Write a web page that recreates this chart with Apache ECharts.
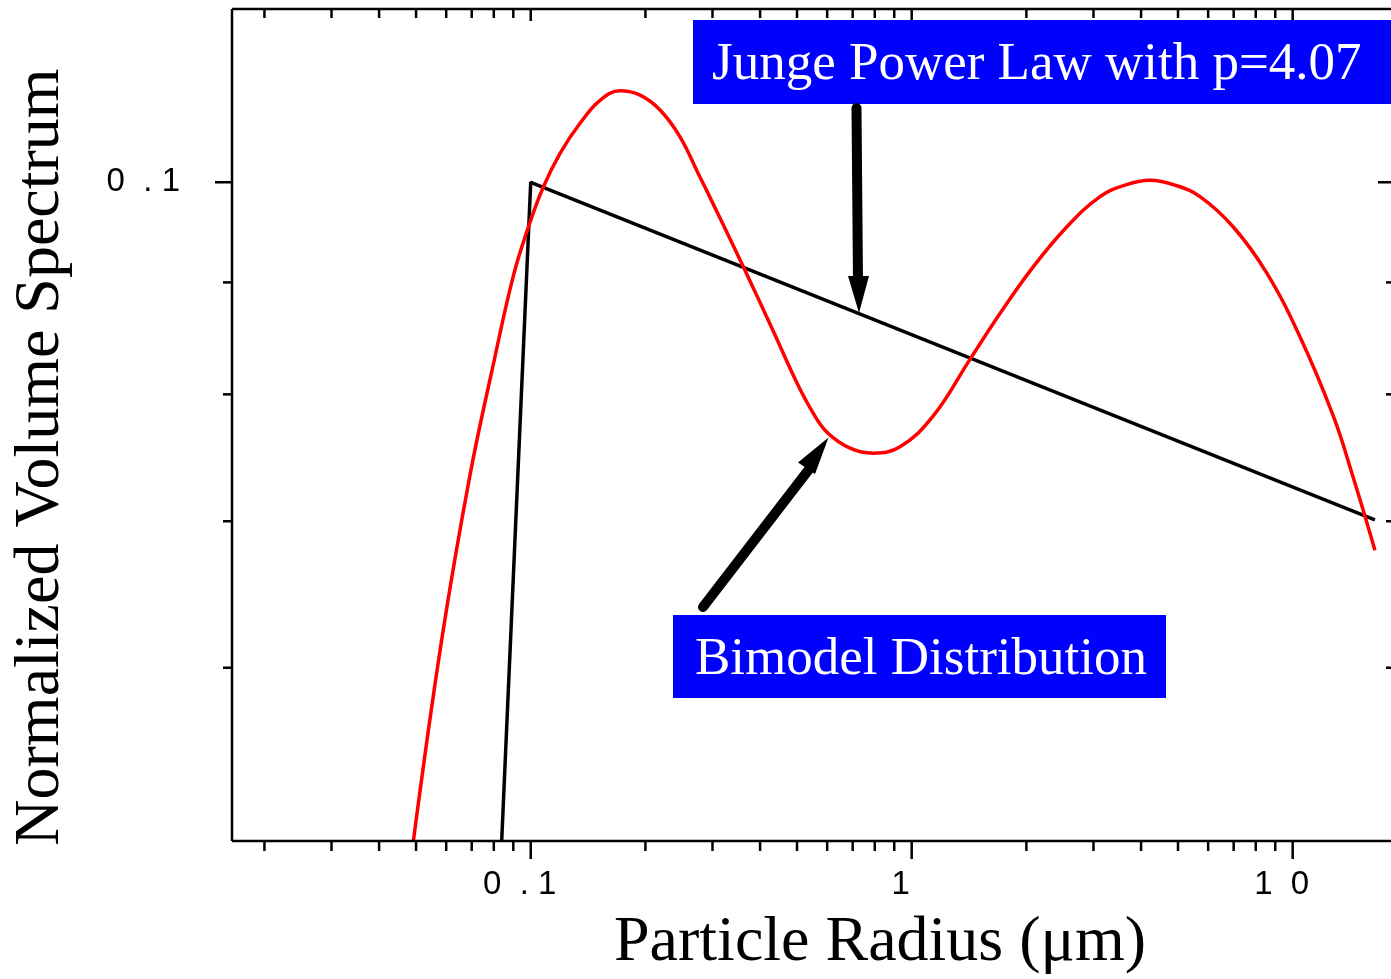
<!DOCTYPE html>
<html><head><meta charset="utf-8">
<script src="https://cdn.jsdelivr.net/npm/echarts@6/dist/echarts.min.js"></script>
<style>html,body{margin:0;padding:0;background:#fff;overflow:hidden;width:1391px;height:979px}#c{width:1400px;height:979px}</style>
</head><body><div id="c"></div>
<script>
// ---- data ----
const redX = [0.0492, 0.0584, 0.0693, 0.0803, 0.0900, 0.0986, 0.1079, 0.1194, 0.1347, 0.1520, 0.1716, 0.1936, 0.2185, 0.2465, 0.2754, 0.3016, 0.3614, 0.4291, 0.4992, 0.5474, 0.5983, 0.6889, 0.7931, 0.9318, 1.139, 1.422, 1.705, 2.086, 2.552, 3.121, 3.629, 4.222, 4.909, 5.712, 6.985, 8.545, 10.45, 12.78, 14.42, 16.44];
const redY = [0.0500, 0.0618, 0.0735, 0.0830, 0.0906, 0.0954, 0.0995, 0.1031, 0.1064, 0.1090, 0.1101, 0.1096, 0.1079, 0.1049, 0.1009, 0.0977, 0.0915, 0.0858, 0.0810, 0.0786, 0.0769, 0.0756, 0.0752, 0.0757, 0.0782, 0.0830, 0.0871, 0.0915, 0.0954, 0.0985, 0.0997, 0.1002, 0.0997, 0.0985, 0.0954, 0.0909, 0.0850, 0.0782, 0.0733, 0.0679];
const powerX = [0.0839, 0.1, 16.44];
const powerY = [0.05, 0.1, 0.0701];
const xMajorTicks = [0.1, 1, 10];
const xTickLabels = ['0  . 1', '1', '1  0'];
const xMinorTicks = [0.02, 0.03, 0.04, 0.05, 0.06, 0.07, 0.08, 0.09, 0.2, 0.3, 0.4, 0.5, 0.6, 0.7, 0.8, 0.9, 2, 3, 4, 5, 6, 7, 8, 9];
const yMajorTicks = [0.1];
const yTickLabels = ['0  . 1'];
const yMinorTicks = [0.06, 0.07, 0.08, 0.09];
const X_MIN = 0.01644, X_MAX = 18.56, Y_MIN = 0.05, Y_MAX = 0.12;

const zip = (a, b) => a.map((v, i) => [v, b[i]]);
const LABEL_FONT = '33px "Liberation Sans", Arial, sans-serif';
const AXIS_W = 2.5;

function tickSeries(axis, values, isMajor, labels) {
  return {
    type: 'custom', silent: true, clip: false, z: 5,
    data: values.map(v => axis === 'x' ? [v, Y_MIN] : [X_MIN, v]),
    renderItem: function (params, api) {
      const cs = params.coordSys;
      const idx = params.dataIndex;
      const ch = [];
      const ls = { stroke: '#000', lineWidth: AXIS_W };
      if (axis === 'x') {
        const px = api.coord([api.value(0), Y_MIN])[0];
        const b = cs.y + cs.height, t = cs.y;
        const lb = isMajor ? 18 : 10, lt = isMajor ? 12 : 9;
        ch.push({ type: 'line', shape: { x1: px, y1: b, x2: px, y2: b + lb }, style: ls });
        ch.push({ type: 'line', shape: { x1: px, y1: t, x2: px, y2: t + lt }, style: ls });
        if (labels) ch.push({ type: 'text', style: { text: labels[idx], x: px - 11, y: b + 44, font: LABEL_FONT, fill: '#000', align: 'center', verticalAlign: 'middle' } });
      } else {
        const py = api.coord([X_MIN, api.value(1)])[1];
        const l = cs.x, r = cs.x + cs.width;
        const len = isMajor ? 17 : 9;
        ch.push({ type: 'line', shape: { x1: l - len, y1: py, x2: l, y2: py }, style: ls });
        ch.push({ type: 'line', shape: { x1: r - len, y1: py, x2: r, y2: py }, style: ls });
        if (labels) ch.push({ type: 'text', style: { text: labels[idx], x: l - 52, y: py, font: LABEL_FONT, fill: '#000', align: 'right', verticalAlign: 'middle' } });
      }
      return { type: 'group', children: ch };
    }
  };
}

const frameSeries = {
  type: 'custom', silent: true, clip: false, z: 6,
  data: [[X_MIN, Y_MIN]],
  renderItem: function (params, api) {
    const cs = params.coordSys;
    const ls = { stroke: '#000', lineWidth: AXIS_W, fill: null };
    const l = cs.x, t = cs.y, b = cs.y + cs.height, r = cs.x + cs.width;
    return { type: 'group', children: [
      { type: 'line', shape: { x1: l, y1: t, x2: r, y2: t }, style: ls },
      { type: 'line', shape: { x1: l, y1: t, x2: l, y2: b }, style: ls },
      { type: 'line', shape: { x1: l, y1: b, x2: r, y2: b }, style: ls }
    ] };
  }
};

const chart = echarts.init(document.getElementById('c'), null, { renderer: 'canvas' });
const TITLE_FONT = '64px "Liberation Serif", "Times New Roman", serif';
const ANN_FONT = '53px "Liberation Serif", "Times New Roman", serif';
chart.setOption({
  animation: false,
  backgroundColor: '#fff',
  grid: { left: 232, top: 9, width: 1163, height: 832, outerBoundsMode: 'none', containLabel: false, show: false },
  xAxis: { type: 'log', logBase: 10, min: X_MIN, max: X_MAX, axisLine: { show: false }, axisTick: { show: false }, axisLabel: { show: false }, splitLine: { show: false } },
  yAxis: { type: 'log', logBase: 10, min: Y_MIN, max: Y_MAX, axisLine: { show: false }, axisTick: { show: false }, axisLabel: { show: false }, splitLine: { show: false } },
  series: [
    { type: 'line', name: 'Junge', data: zip(powerX, powerY), showSymbol: false, clip: true, lineStyle: { color: '#000', width: 3.5 }, z: 3 },
    { type: 'line', name: 'Bimodal', data: zip(redX, redY), showSymbol: false, smooth: 0.4, clip: true, lineStyle: { color: '#ff0000', width: 3.5 }, z: 4 },
    frameSeries,
    tickSeries('x', xMinorTicks, false, null),
    tickSeries('x', xMajorTicks, true, xTickLabels),
    tickSeries('y', yMinorTicks, false, null),
    tickSeries('y', yMajorTicks, true, yTickLabels)
  ],
  graphic: [
    { type: 'rect', z: 20, shape: { x: 693, y: 20, width: 702, height: 84 }, style: { fill: '#0000ff' } },
    { type: 'text', z: 21, style: { text: 'Junge Power Law with p=4.07', x: 712, y: 65, font: ANN_FONT, fill: '#fff', align: 'left', verticalAlign: 'middle' } },
    { type: 'rect', z: 20, shape: { x: 673, y: 615, width: 493, height: 83 }, style: { fill: '#0000ff' } },
    { type: 'text', z: 21, style: { text: 'Bimodel Distribution', x: 695, y: 660, font: ANN_FONT, fill: '#fff', align: 'left', verticalAlign: 'middle' } },
    { type: 'line', z: 20, shape: { x1: 856.5, y1: 108, x2: 858, y2: 282 }, style: { stroke: '#000', lineWidth: 10, lineCap: 'round' } },
    { type: 'polygon', z: 20, shape: { points: [[848, 276], [869, 276], [859, 313]] }, style: { fill: '#000' } },
    { type: 'line', z: 20, shape: { x1: 703, y1: 607, x2: 810, y2: 468 }, style: { stroke: '#000', lineWidth: 10, lineCap: 'round' } },
    { type: 'polygon', z: 20, shape: { points: [[798, 462.5], [815, 474], [828.5, 437.5]] }, style: { fill: '#000' } },
    { type: 'text', z: 21, style: { text: 'Particle Radius (μm)', x: 880, y: 943, font: TITLE_FONT, fill: '#000', align: 'center', verticalAlign: 'middle' } },
    { type: 'text', z: 21, x: 41, y: 457, rotation: Math.PI / 2, style: { text: 'Normalized Volume Spectrum', x: 0, y: 0, font: TITLE_FONT, fill: '#000', align: 'center', verticalAlign: 'middle' } }
  ]
});
</script>
</body></html>
